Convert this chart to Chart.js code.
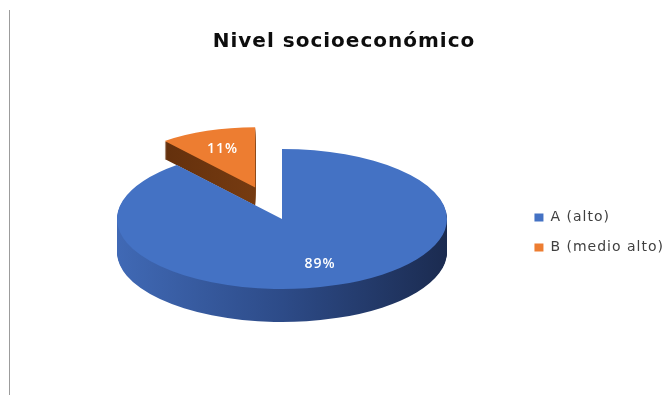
<!DOCTYPE html>
<html lang="es">
<head>
<meta charset="utf-8">
<title>Nivel socioeconómico</title>
<script src="https://cdn.jsdelivr.net/npm/chart.js@4.4.1/dist/chart.umd.min.js"></script>
<style>
  html,body{margin:0;padding:0;background:#fff;}
  #marco{position:relative;width:665px;height:399px;}
  #marco::before{content:'';position:absolute;left:9px;top:10px;bottom:4px;width:1px;background:#9c9c9c;}
  canvas{display:block;}
</style>
</head>
<body>
<div id="marco"><canvas id="grafico" width="665" height="399"></canvas></div>
<script>
/* ===== Datos ===== */
const categorias = ['A (alto)', 'B (medio alto)'];
const porcentajes = [89, 11];

/* ===== Estilo ===== */
const colores = ['#4472C4', '#ED7D31'];
const lateral = [['#4069b5', '#2d4b88', '#1b2b50'], ['#5a2a0a', '#763b11', '#8a4719']];
const separacion = [0, 0.48];          // cuánto se aparta cada porción (fracción del radio)
const CENTRO_X = 282, CENTRO_Y = 219;  // centro de la cara superior
const RADIO_X = 165, RADIO_Y = 70, GROSOR = 33;
const PERSPECTIVA = 0.31;              // lo que está más atrás se ve más chico

// texto algo más abierto, como en la planilla original
const espaciado = {
  id: 'espaciado',
  beforeUpdate(chart){ chart.ctx.letterSpacing = '1px'; },
  beforeDraw(chart){ chart.ctx.letterSpacing = '1px'; }
};

// dibuja el pastel inclinado con su canto, de atrás hacia adelante
const pastel3D = {
  id: 'pastel3D',
  beforeDatasetsDraw(chart){
    const ctx = chart.ctx;
    const arcos = chart.getDatasetMeta(0).data;
    if(!arcos.length) return;
    const { x: cx, y: cy, outerRadius: r } = arcos[0];
    const sx = RADIO_X / r, sy = RADIO_Y / r;
    const medio = a => (a.startAngle + a.endAngle) / 2;
    const escala = (a, i) => 1 + PERSPECTIVA * Math.sin(medio(a)) * separacion[i] * r * sy / RADIO_Y;
    const orden = arcos.map((a, i) => i)
      .sort((i, j) => Math.sin(medio(arcos[i])) - Math.sin(medio(arcos[j])));

    const ubicar = (a, i, dy) => {
      ctx.translate(CENTRO_X, CENTRO_Y + dy);
      ctx.scale(sx, sy);
      const m = medio(a), e = separacion[i] * r, k = escala(a, i);
      ctx.translate(Math.cos(m) * e, Math.sin(m) * e);
      ctx.scale(k, k);
      ctx.translate(-cx, -cy);
    };

    for(const i of orden){
      const a = arcos[i];
      const original = a.options.backgroundColor;
      const g = ctx.createLinearGradient(cx - r, 0, cx + r, 0);
      lateral[i].forEach((c, k, arr) => g.addColorStop(k / (arr.length - 1), c));
      a.options.backgroundColor = g;
      const grosor = Math.round(GROSOR * Math.pow(escala(a, i), 4));
      for(let d = grosor; d > 0; d--){
        ctx.save(); ubicar(a, i, d); a.draw(ctx); ctx.restore();
      }
      a.options.backgroundColor = original;
      ctx.save(); ubicar(a, i, 0); a.draw(ctx); ctx.restore();
    }

    // porcentajes sobre cada cara
    ctx.save();
    ctx.fillStyle = '#fff';
    ctx.font = '600 14px "Open Sans"';
    ctx.textAlign = 'center';
    ctx.textBaseline = 'middle';
    arcos.forEach((a, i) => {
      const m = medio(a), k = (separacion[i] + 0.68 * escala(a, i)) * r;
      ctx.fillText(porcentajes[i] + '%', CENTRO_X + Math.cos(m) * k * sx, CENTRO_Y + Math.sin(m) * k * sy);
    });
    ctx.restore();
    return false;
  }
};

new Chart(document.getElementById('grafico'), {
  type: 'pie',
  data: {
    labels: categorias,
    datasets: [{
      data: porcentajes,
      backgroundColor: colores,
      borderWidth: 0
    }]
  },
  options: {
    responsive: false,
    animation: false,
    layout: { padding: { left: 14, right: -9, top: 30, bottom: -36 } },
    plugins: {
      tooltip: { enabled: false },
      title: {
        display: true,
        text: 'Nivel socioeconómico',
        color: '#0d0d0d',
        font: { family: '"DejaVu Sans"', size: 20, weight: 'bold' },
        padding: { top: 0, bottom: 8 }
      },
      legend: {
        position: 'right',
        labels: {
          boxWidth: 9,
          boxHeight: 8,
          padding: 16,
          color: '#404040',
          font: { family: '"DejaVu Sans"', size: 14 }
        }
      }
    }
  },
  plugins: [espaciado, pastel3D]
});
</script>
</body>
</html>
